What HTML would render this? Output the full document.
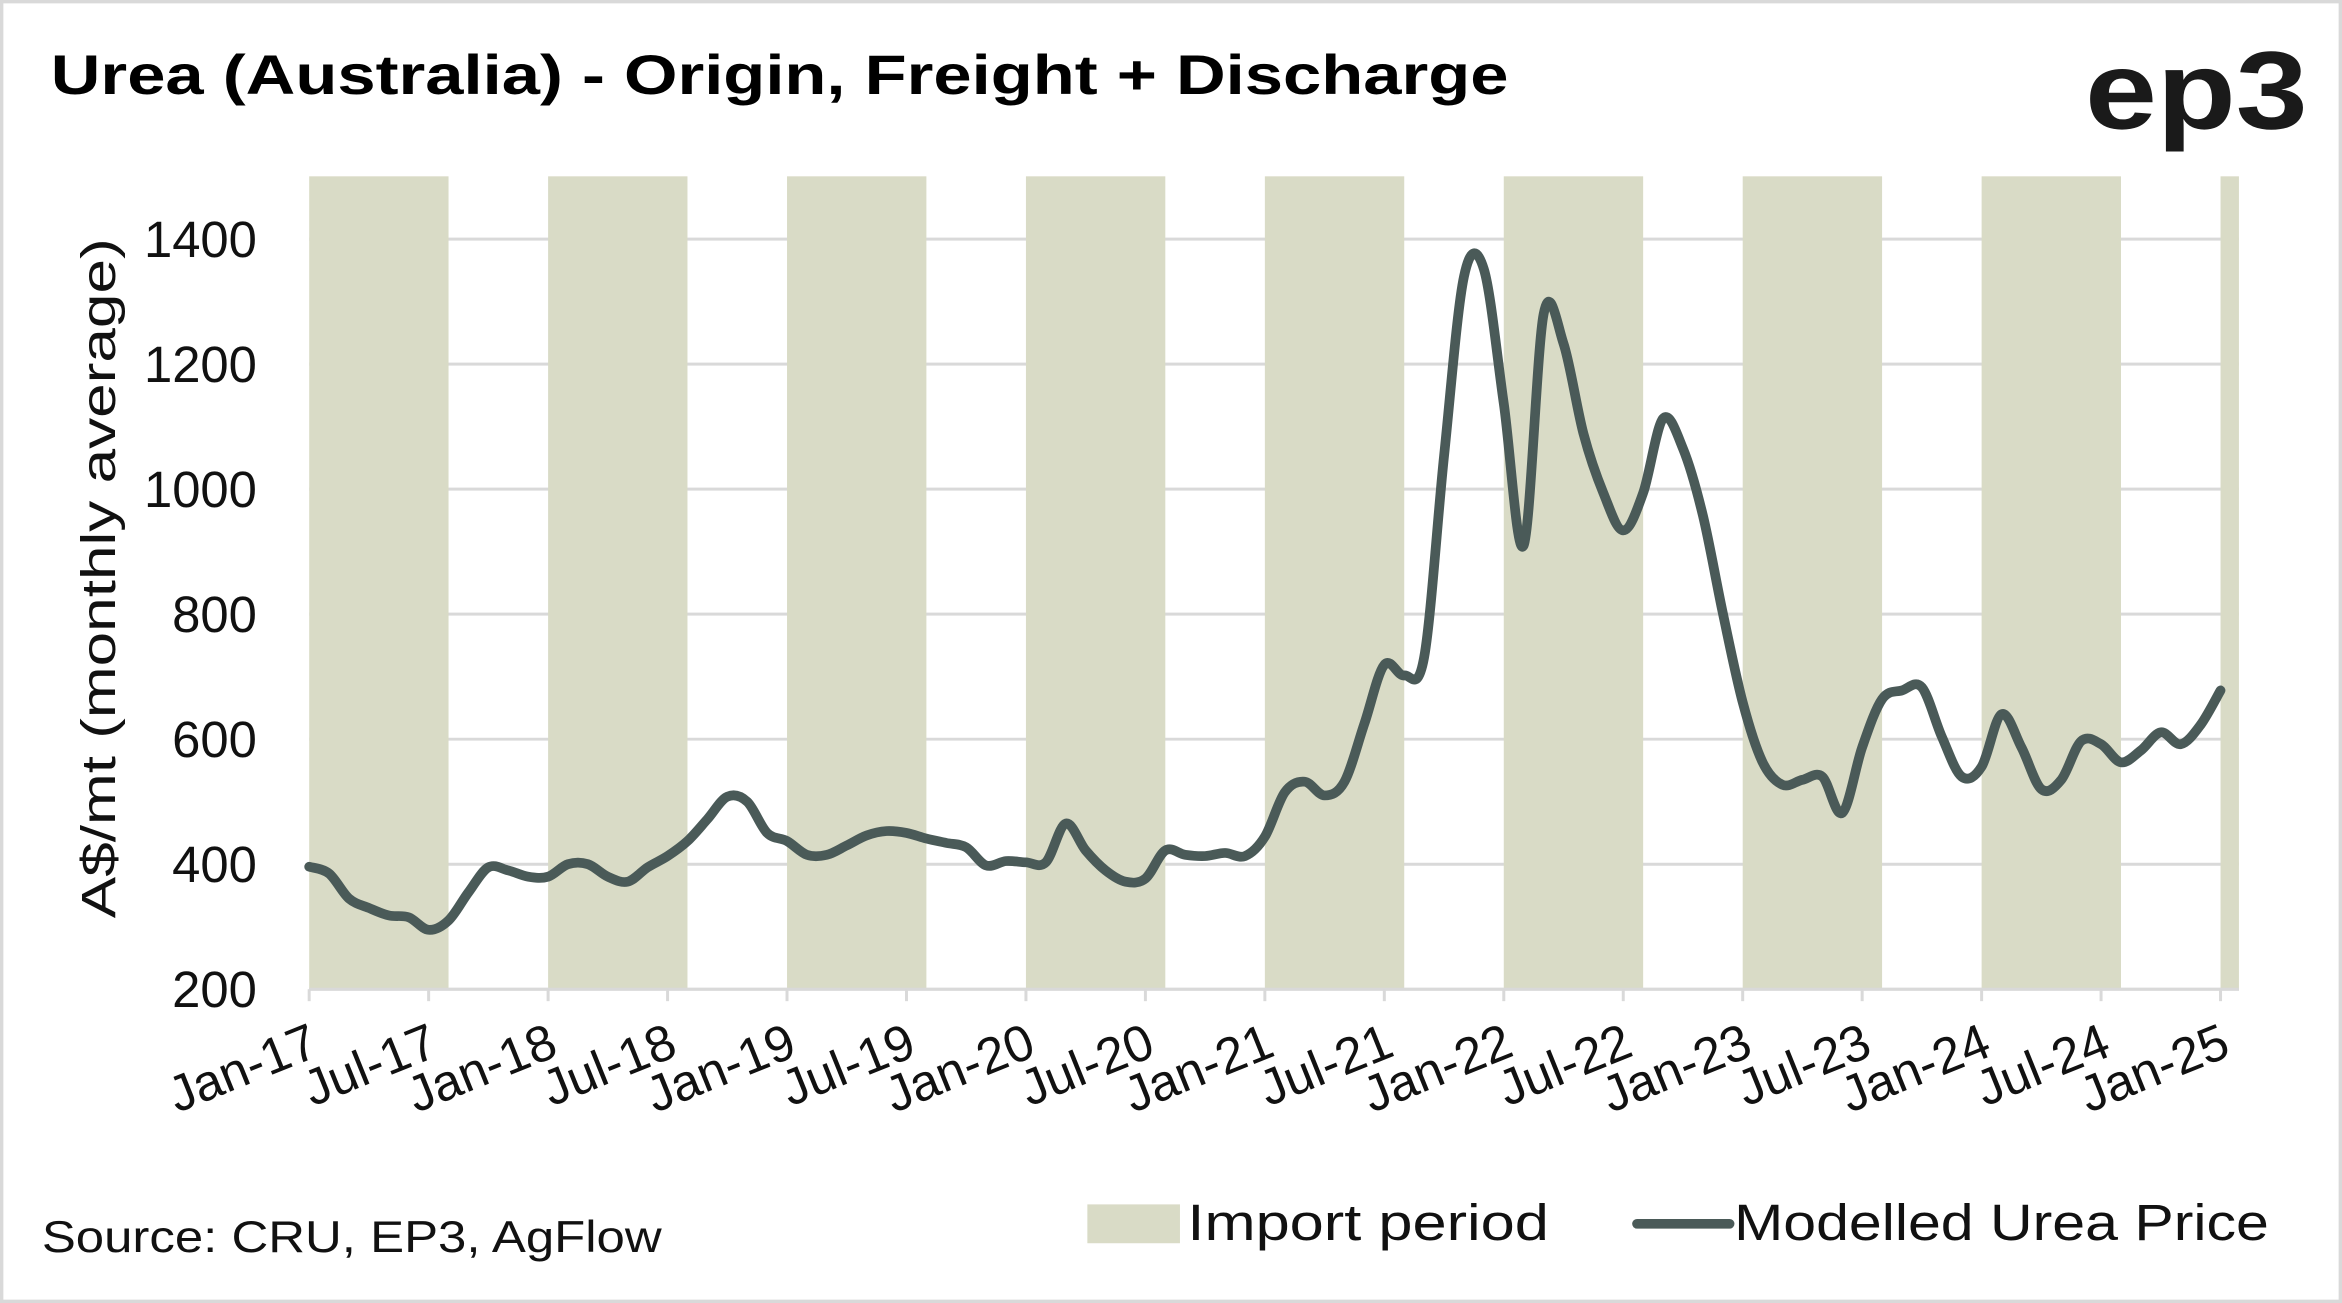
<!DOCTYPE html>
<html><head><meta charset="utf-8"><style>
html,body{margin:0;padding:0;background:#fff;}
svg{display:block;font-family:"Liberation Sans",sans-serif;}
</style></head><body>
<svg id="chart" width="2342" height="1303" viewBox="0 0 1568 872" preserveAspectRatio="none" xmlns="http://www.w3.org/2000/svg">
<rect x="1" y="1" width="1566" height="870" fill="#fff" stroke="#d9d9d9" stroke-width="2.5"/>
<text x="34" y="63" font-size="37" font-weight="bold" fill="#000" textLength="976" lengthAdjust="spacingAndGlyphs">Urea (Australia) - Origin, Freight + Discharge</text>
<text x="1396" y="86" font-size="74" font-weight="bold" fill="#1a1a1a" textLength="149" lengthAdjust="spacingAndGlyphs">ep3</text>
<g id="grid"></g>
<g id="bands"></g>
<g id="yticks"></g>
<g id="xticks"></g>
<path id="line" fill="none" stroke="#4a5a58" stroke-width="6.5" stroke-linejoin="round" stroke-linecap="round"/>
<text transform="translate(77,387) rotate(-90)" font-size="32" text-anchor="middle" fill="#111" textLength="455" lengthAdjust="spacingAndGlyphs">A$/mt (monthly average)</text>
<text x="28" y="838" font-size="30" fill="#111" textLength="415" lengthAdjust="spacingAndGlyphs">Source: CRU, EP3, AgFlow</text>
<g>
<rect x="728" y="806" width="62" height="26" fill="#d9dbc6"/>
<text x="795" y="830" font-size="34" fill="#111" textLength="242" lengthAdjust="spacingAndGlyphs">Import period</text>
<line x1="1096" y1="819" x2="1158" y2="819" stroke="#4a5a58" stroke-width="6.5" stroke-linecap="round"/>
<text x="1161" y="830" font-size="34" fill="#111" textLength="358" lengthAdjust="spacingAndGlyphs">Modelled Urea Price</text>
</g>
</svg>
<script>
const yTicks=[200,400,600,800,1000,1200,1400];
const xLabels=["Jan-17","Jul-17","Jan-18","Jul-18","Jan-19","Jul-19","Jan-20","Jul-20","Jan-21","Jul-21","Jan-22","Jul-22","Jan-23","Jul-23","Jan-24","Jul-24","Jan-25"];
const bandStarts=[0,12,24,36,48,60,72,84,96];
const bandLength=7;
const prices=[396,385,345,330,318,315,295,310,355,395,390,380,
380,400,400,380,372,395,413,437,472,508,500,450,
437,415,415,430,446,453,450,441,434,427,398,405,
403,403,465,422,390,372,377,422,415,413,418,413,
444,515,532,510,532,625,719,702,731,1053,1340,1352,
1137,910,1280,1233,1089,994,934,994,1113,1065,958,802,
659,563,527,535,540,482,587,664,678,683,604,540,
556,640,587,520,535,597,592,563,582,611,592,623,
678];
const X0=207,MW=13.33,Y0=662,YS=0.4183,TOP=118;
const xs=m=>X0+m*MW, ys=v=>Y0-(v-200)*YS;
const NS="http://www.w3.org/2000/svg";
function mk(tag,attrs,parent){const e=document.createElementNS(NS,tag);for(const k in attrs)e.setAttribute(k,attrs[k]);parent.appendChild(e);return e;}
const grid=document.getElementById('grid'),bands=document.getElementById('bands'),yt=document.getElementById('yticks'),xt=document.getElementById('xticks');
yTicks.forEach(v=>{
 const l=mk('line',{x1:X0,x2:1499,y1:ys(v),y2:ys(v),stroke:'#d9d9d9','stroke-width':2},grid);
 
 
 const t=mk('text',{x:172,y:ys(v)+12,'font-size':34,'text-anchor':'end',fill:'#111'},yt);
 t.textContent=v;
 
 
});
bandStarts.forEach(s=>{
 const e=Math.min(s+bandLength,97);
 const w=Math.min(xs(e),1499)-xs(s);
 const r=mk('rect',{x:xs(s),y:TOP,width:w,height:Y0-TOP,fill:'#d9dbc6'},bands);
 
 
});
mk('line',{x1:X0,x2:1499,y1:Y0,y2:Y0,stroke:'#d9d9d9','stroke-width':2},xt);
xLabels.forEach((lab,i)=>{
 const x=xs(i*6);
 mk('line',{x1:x,x2:x,y1:Y0,y2:Y0+8,stroke:'#d9d9d9','stroke-width':2},xt);
 const t=mk('text',{transform:`translate(${x+8},${Y0+44}) rotate(-22)`,'font-size':34,'text-anchor':'end',fill:'#111'},xt);
 t.textContent=lab;
 
 
});
const pts=prices.map((v,i)=>[xs(i),ys(v)]);
let d=`M${pts[0][0]},${pts[0][1]}`;
for(let i=0;i<pts.length-1;i++){
 const p0=pts[Math.max(i-1,0)],p1=pts[i],p2=pts[i+1],p3=pts[Math.min(i+2,pts.length-1)];
 const c1=[p1[0]+(p2[0]-p0[0])/6,p1[1]+(p2[1]-p0[1])/6],c2=[p2[0]-(p3[0]-p1[0])/6,p2[1]-(p3[1]-p1[1])/6];
 d+=` C${c1[0]},${c1[1]} ${c2[0]},${c2[1]} ${p2[0]},${p2[1]}`;
}
document.getElementById('line').setAttribute('d',d);
</script>
</body></html>
